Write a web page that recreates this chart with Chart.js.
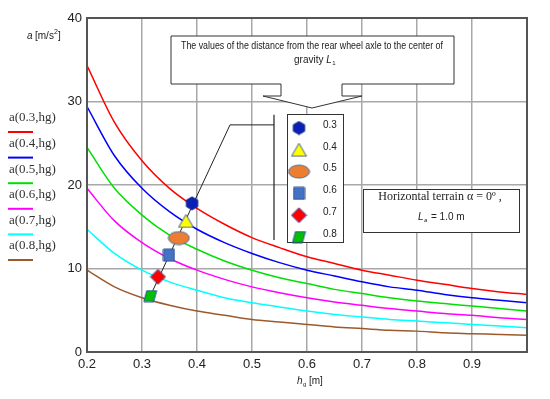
<!DOCTYPE html>
<html>
<head>
<meta charset="utf-8">
<script src="https://cdn.jsdelivr.net/npm/chart.js@4.4.0/dist/chart.umd.min.js"></script>
<style>
  html, body { margin: 0; padding: 0; background: #fff; }
  #wrap { width: 550px; height: 399px; }
</style>
</head>
<body>
<div id="wrap"><canvas id="accChart" width="550" height="399"></canvas></div>
<script>
// hg [m] sample points and read-off a [m/s2] for each L1
const hgValues = [0.2, 0.25, 0.3, 0.35, 0.4, 0.45, 0.5, 0.55, 0.6, 0.65, 0.7, 0.75, 0.8, 0.85, 0.9, 0.95, 1.0];
const a03 = [34.3, 27.5, 22.9, 19.6, 17.2, 15.3, 13.7, 12.5, 11.4, 10.6, 9.8, 9.2, 8.6, 8.1, 7.6, 7.2, 6.9];
const a04 = [29.4, 23.5, 19.6, 16.8, 14.7, 13.1, 11.8, 10.7, 9.8, 9.1, 8.4, 7.8, 7.4, 6.9, 6.5, 6.2, 5.9];
const a05 = [24.5, 19.6, 16.4, 14.0, 12.3, 10.9, 9.8, 8.9, 8.2, 7.5, 7.0, 6.5, 6.1, 5.8, 5.5, 5.2, 4.9];
const a06 = [19.6, 15.7, 13.1, 11.2, 9.8, 8.7, 7.8, 7.1, 6.5, 6.0, 5.6, 5.2, 4.9, 4.6, 4.4, 4.1, 3.9];
const a07 = [14.7, 11.8, 9.8, 8.4, 7.4, 6.5, 5.9, 5.4, 4.9, 4.5, 4.2, 3.9, 3.7, 3.5, 3.3, 3.1, 2.9];
const a08 = [9.8, 7.8, 6.5, 5.6, 4.9, 4.4, 3.9, 3.6, 3.3, 3.0, 2.8, 2.6, 2.5, 2.3, 2.2, 2.1, 2.0];

const seriesNames = ['a(0.3,hg)', 'a(0.4,hg)', 'a(0.5,hg)', 'a(0.6,hg)', 'a(0.7,hg)', 'a(0.8,hg)'];
const seriesColors = ['#ff0000', '#0000ff', '#00e000', '#ff00ff', '#00ffff', '#9c5a2c'];

// marked points (one per L1)
const markLabels = ['0.3', '0.4', '0.5', '0.6', '0.7', '0.8'];
const markHg = [0.391, 0.380, 0.367, 0.349, 0.329, 0.315];
const markA = [17.8, 15.7, 13.65, 11.6, 9.0, 6.7];

const yTicks = [0, 10, 20, 30, 40];

// small canvases used as point styles
function makeMarker(w, h, fill, stroke, drawPath) {
  const c = document.createElement('canvas');
  c.width = w + 2; c.height = h + 2;
  const g = c.getContext('2d');
  g.translate(1, 1);
  g.beginPath();
  drawPath(g, w, h);
  g.closePath();
  g.fillStyle = fill;
  g.fill();
  g.lineWidth = 1;
  g.strokeStyle = stroke;
  g.stroke();
  return c;
}

const markers = [
  makeMarker(13, 13, '#0a1fb8', '#1a2a7a', (g, w, h) => {
    for (let i = 0; i < 6; i++) {
      const ang = Math.PI / 6 + i * Math.PI / 3;
      const px = w / 2 + Math.cos(ang) * w / 2, py = h / 2 + Math.sin(ang) * h / 2;
      i ? g.lineTo(px, py) : g.moveTo(px, py);
    }
  }),
  makeMarker(15, 13, '#ffff00', '#3a5aa0', (g, w, h) => {
    g.moveTo(w / 2, 0); g.lineTo(w, h); g.lineTo(0, h);
  }),
  makeMarker(21, 13, '#ed7d31', '#41719c', (g, w, h) => {
    g.ellipse(w / 2, h / 2, w / 2, h / 2, 0, 0, Math.PI * 2);
  }),
  makeMarker(11, 12, '#4472c4', '#2f528f', (g, w, h) => {
    g.rect(0, 0, w, h);
  }),
  makeMarker(15, 15, '#ff0000', '#3050a0', (g, w, h) => {
    g.moveTo(w / 2, 0); g.lineTo(w, h / 2); g.lineTo(w / 2, h); g.lineTo(0, h / 2);
  }),
  makeMarker(13, 11, '#00c000', '#3050a0', (g, w, h) => {
    g.moveTo(3, 0); g.lineTo(w, 0); g.lineTo(w - 3, h); g.lineTo(0, h);
  })
];

const curveData = [a03, a04, a05, a06, a07, a08];

const datasets = [];
markers.forEach((m, i) => {
  datasets.push({
    label: 'L1=' + markLabels[i],
    data: [{ x: markHg[i], y: markA[i] }],
    showLine: false,
    pointStyle: m,
    pointRadius: 7,
    order: 0
  });
});
// leader line through the marks up to the legend
datasets.push({
  label: 'leader',
  data: [{ x: 0.315, y: 6.7 }, { x: 0.46, y: 27.2 }, { x: 0.54, y: 27.2 }],
  borderColor: '#222',
  borderWidth: 1,
  pointRadius: 0,
  tension: 0,
  order: 1
});
datasets.push({
  label: 'bracket',
  data: [{ x: 0.54, y: 28.4 }, { x: 0.54, y: 13.4 }],
  borderColor: '#222',
  borderWidth: 1.2,
  pointRadius: 0,
  tension: 0,
  order: 1
});
curveData.forEach((vals, i) => {
  datasets.push({
    label: seriesNames[i],
    data: vals.map((v, j) => ({ x: hgValues[j], y: v })),
    borderColor: seriesColors[i],
    borderWidth: 1.5,
    pointRadius: 0,
    cubicInterpolationMode: 'monotone',
    order: 2
  });
});

const decorPlugin = {
  id: 'decor',
  afterDraw(chart) {
    const ctx = chart.ctx;
    const a = chart.chartArea;
    ctx.save();

    // plot frame
    ctx.strokeStyle = '#555';
    ctx.lineWidth = 2;
    ctx.strokeRect(a.left, a.top, a.right - a.left, a.bottom - a.top);

    // left legend
    ctx.textBaseline = 'middle';
    seriesNames.forEach((name, i) => {
      const y = 118 + i * 25.6;
      ctx.font = '13px "Liberation Serif"';
      ctx.fillStyle = '#333';
      ctx.textAlign = 'left';
      ctx.fillText(name, 9, y);
      ctx.strokeStyle = seriesColors[i];
      ctx.lineWidth = 2;
      ctx.beginPath();
      ctx.moveTo(8, y + 14);
      ctx.lineTo(33, y + 14);
      ctx.stroke();
    });

    // y axis title
    ctx.fillStyle = '#222';
    ctx.font = 'italic 10px "Liberation Sans"';
    ctx.textAlign = 'left';
    ctx.fillText('a', 27, 36);
    ctx.font = '10px "Liberation Sans"';
    ctx.fillText('[m/s', 35, 36);
    const w1 = ctx.measureText('[m/s').width;
    ctx.font = '7px "Liberation Sans"';
    ctx.fillText('2', 35 + w1, 32);
    ctx.font = '10px "Liberation Sans"';
    ctx.fillText(']', 35 + w1 + 4, 36);

    // x axis title
    ctx.font = 'italic 10px "Liberation Sans"';
    ctx.fillText('h', 297, 381);
    ctx.font = '6px "Liberation Sans"';
    ctx.fillText('g', 303, 384);
    ctx.font = '10px "Liberation Sans"';
    ctx.fillText('[m]', 309, 381);

    // callout box
    ctx.beginPath();
    ctx.moveTo(171, 36);
    ctx.lineTo(454, 36);
    ctx.lineTo(454, 84);
    ctx.lineTo(342, 84);
    ctx.lineTo(342, 96);
    ctx.lineTo(362, 96);
    ctx.lineTo(312, 108);
    ctx.lineTo(263, 96);
    ctx.lineTo(281, 96);
    ctx.lineTo(281, 84);
    ctx.lineTo(171, 84);
    ctx.closePath();
    ctx.fillStyle = '#fff';
    ctx.fill();
    ctx.strokeStyle = '#333';
    ctx.lineWidth = 1;
    ctx.stroke();
    ctx.fillStyle = '#1a1a1a';
    ctx.textAlign = 'center';
    ctx.font = '10px "Liberation Sans"';
    ctx.fillText('The values of the distance from the rear wheel axle to the center of', 312, 46, 262);
    ctx.textAlign = 'left';
    const gw = ctx.measureText('gravity ').width;
    ctx.fillText('gravity ', 294, 60);
    ctx.font = 'italic 10px "Liberation Sans"';
    ctx.fillText('L', 294 + gw, 60);
    ctx.font = '6px "Liberation Sans"';
    ctx.fillText('1', 294 + gw + 6, 63);

    // marker legend
    ctx.fillStyle = '#fff';
    ctx.fillRect(287, 114, 56, 128);
    ctx.strokeStyle = '#333';
    ctx.strokeRect(287.5, 114.5, 56, 128);
    markers.forEach((m, i) => {
      const y = 125 + i * 21.8;
      ctx.drawImage(m, 299 - m.width / 2, y + 3 - m.height / 2);
      ctx.fillStyle = '#222';
      ctx.font = '10px "Liberation Sans"';
      ctx.textAlign = 'left';
      ctx.fillText(markLabels[i], 323, y);
    });

    // terrain box
    ctx.fillStyle = '#fff';
    ctx.fillRect(363, 189, 156, 43);
    ctx.strokeStyle = '#333';
    ctx.strokeRect(363.5, 189.5, 156, 43);
    ctx.fillStyle = '#222';
    ctx.textAlign = 'center';
    ctx.font = '12px "Liberation Serif"';
    ctx.fillText('Horizontal terrain \u03b1 = 0\u00ba ,', 440, 197);
    ctx.textAlign = 'left';
    ctx.font = 'italic 10px "Liberation Sans"';
    ctx.fillText('L', 418, 217);
    ctx.font = 'italic 6px "Liberation Sans"';
    ctx.fillText('a', 424, 220);
    ctx.font = '10px "Liberation Sans"';
    ctx.fillText('= 1.0 m', 431, 217);

    ctx.restore();
  }
};

const tickFont = { family: 'Liberation Sans', size: 13 };

new Chart(document.getElementById('accChart').getContext('2d'), {
  type: 'line',
  data: { datasets: datasets },
  options: {
    responsive: false,
    animation: false,
    events: [],
    layout: { padding: { top: 18, right: 23, left: 0, bottom: 0 } },
    plugins: { legend: { display: false }, tooltip: { enabled: false } },
    scales: {
      x: {
        type: 'linear',
        min: 0.2,
        max: 1.0,
        afterFit: (scale) => { scale.height = 47; },
        grid: { color: '#a8a8a8', lineWidth: 1.5, drawTicks: false },
        border: { display: false },
        ticks: {
          stepSize: 0.1,
          padding: 5,
          color: '#222',
          font: tickFont,
          maxRotation: 0,
          callback: (v) => (v > 0.95 ? '' : v.toFixed(1))
        }
      },
      y: {
        min: yTicks[0],
        max: yTicks[yTicks.length - 1],
        afterFit: (scale) => { scale.width = 87; },
        grid: { color: '#a8a8a8', lineWidth: 1.5, drawTicks: false },
        border: { display: false },
        ticks: {
          stepSize: 10,
          padding: 5,
          color: '#222',
          font: tickFont,
          callback: (v) => (yTicks.includes(v) ? String(v) : '')
        }
      }
    }
  },
  plugins: [decorPlugin]
});
</script>
</body>
</html>
